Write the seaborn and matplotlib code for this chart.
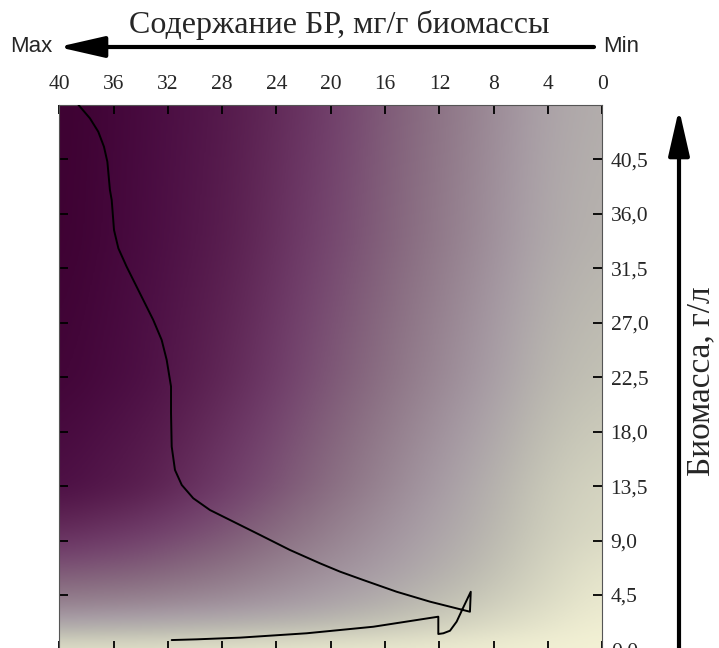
import numpy as np
import pandas as pd
import matplotlib
matplotlib.use("Agg")
import matplotlib.pyplot as plt
from matplotlib.colors import LinearSegmentedColormap, ListedColormap
import seaborn as sns

# ---------------- data ----------------
content = [38.60, 37.74, 37.13, 36.71, 36.46, 36.27, 36.14, 35.97, 35.65, 35.04,
           34.06, 33.08, 32.46, 32.09, 31.77, 31.77, 31.72, 31.48, 30.98, 30.13,
           28.90, 27.18, 25.21, 23.01, 20.80, 19.32, 17.61, 15.15, 12.69, 9.75,
           9.69, 10.24, 10.73, 11.22, 11.71, 12.08, 12.08, 16.87, 21.78, 26.69,
           29.88, 31.72]
biomass = [45.00, 43.87, 42.77, 41.53, 40.29, 37.95, 37.13, 34.65, 33.14, 31.62,
           29.42, 27.22, 25.57, 23.92, 21.72, 19.51, 16.76, 14.83, 13.59, 12.49,
           11.52, 10.56, 9.46, 8.22, 7.12, 6.43, 5.74, 4.77, 3.95, 3.12,
           4.77, 3.48, 2.30, 1.55, 1.34, 1.28, 2.71, 1.88, 1.34, 0.98,
           0.84, 0.78]

x_ticks = [40, 36, 32, 28, 24, 20, 16, 12, 8, 4, 0]
x_tick_labels = ["40", "36", "32", "28", "24", "20", "16", "12", "8", "4", "0"]
y_ticks = [0.0, 4.5, 9.0, 13.5, 18.0, 22.5, 27.0, 31.5, 36.0, 40.5]
y_tick_labels = ["0,0", "4,5", "9,0", "13,5", "18,0", "22,5", "27,0", "31,5", "36,0", "40,5"]

title_text = "Содержание БР, мг/г биомассы"
ylabel_text = "Биомасса, г/л"

# background shading control grid (0 = dark purple, 1 = pale yellow)
grid_content = [40, 34, 28, 22, 16, 10, 4, 0]
grid_biomass = [45, 34, 22.5, 13.5, 9.5, 6.75, 4.5, 3.2, 1.35, 0]
shade_45 = [0.00, 0.10, 0.20, 0.33, 0.46, 0.58, 0.71, 0.75]
shade_34 = [0.01, 0.11, 0.22, 0.36, 0.48, 0.60, 0.73, 0.77]
shade_22 = [0.05, 0.14, 0.27, 0.41, 0.53, 0.65, 0.78, 0.82]
shade_13 = [0.14, 0.23, 0.36, 0.48, 0.60, 0.72, 0.84, 0.88]
shade_9 = [0.31, 0.37, 0.45, 0.55, 0.65, 0.75, 0.86, 0.90]
shade_7 = [0.44, 0.47, 0.53, 0.61, 0.69, 0.78, 0.88, 0.93]
shade_4 = [0.55, 0.57, 0.61, 0.67, 0.74, 0.82, 0.90, 0.95]
shade_3 = [0.63, 0.65, 0.68, 0.72, 0.78, 0.85, 0.92, 0.96]
shade_1 = [0.80, 0.81, 0.82, 0.84, 0.87, 0.91, 0.95, 0.985]
shade_0 = [0.93, 0.93, 0.94, 0.95, 0.96, 0.97, 0.99, 1.00]

cmap_stops = [0.00, 0.12, 0.25, 0.38, 0.50, 0.60, 0.70, 0.78, 0.88, 1.00]
cmap_colors = ["#3c0030", "#4a0c42", "#5c2252", "#72406c", "#86687e",
               "#988592", "#aaa0a8", "#b8b6ae", "#d4d4c0", "#f8f6d8"]


def box_smooth(arr, k, axis):
    ker = np.ones(k) / k
    widths = [(0, 0)] * arr.ndim
    widths[axis] = (k // 2, k // 2)
    p = np.pad(arr, widths, mode="edge")
    return np.apply_along_axis(lambda v: np.convolve(v, ker, mode="valid"), axis, p)


# ---------------- plot ----------------
sns.set_theme(style="white")
plt.rcParams["font.family"] = ["Liberation Serif", "DejaVu Serif"]

W, H = 719, 648
fig = plt.figure(figsize=(W / 100, H / 100), dpi=100)
ax = fig.add_axes([59.3 / W, 1 - 649.5 / H, (602.3 - 59.3) / W, (649.5 - 104.7) / H])

# smooth colormap
base = LinearSegmentedColormap.from_list("bg", list(zip(cmap_stops, cmap_colors)), N=512)
lut = base(np.linspace(0, 1, 512))
lut[:, :3] = box_smooth(lut[:, :3], 61, 0)
cmap = ListedColormap(lut)

# smooth background field from the control grid
Z = np.array([shade_45, shade_34, shade_22, shade_13, shade_9, shade_7,
              shade_4, shade_3, shade_1, shade_0])
n = 400
gx = np.linspace(40, 0, n)
gy = np.linspace(45, 0, n)
gyc = np.array(grid_biomass)[::-1]
gxc = np.array(grid_content)[::-1]
tmp = np.array([np.interp(gy[::-1], gyc, Z[::-1, j])[::-1] for j in range(Z.shape[1])]).T
fine = np.array([np.interp(gx[::-1], gxc, tmp[i, ::-1])[::-1] for i in range(n)])
fine = box_smooth(fine, 41, 1)
fine = box_smooth(fine, 21, 0)
ax.imshow(fine, extent=(40, 0, 0, 45), origin="upper", cmap=cmap, vmin=0, vmax=1,
          aspect="auto", interpolation="bilinear", zorder=0)

df = pd.DataFrame({"content": content, "biomass": biomass})
sns.lineplot(data=df, x="content", y="biomass", sort=False, estimator=None,
             color="black", linewidth=1.4, ax=ax, zorder=3)

ax.set_xlim(40, 0)
ax.set_ylim(0, 45)
ax.set_xlabel("")
ax.set_ylabel("")
ax.set_xticks(x_ticks)
ax.set_xticklabels(x_tick_labels)
ax.set_yticks(y_ticks)
ax.set_yticklabels(y_tick_labels)
ax.tick_params(axis="x", direction="in", top=True, bottom=True, labeltop=True,
               labelbottom=False, length=6.5, width=1.3, color="black",
               labelsize=15.5, pad=8)
ax.tick_params(axis="y", direction="in", left=True, right=True, labelleft=False,
               labelright=True, length=6.5, width=1.3, color="black",
               labelsize=15.5, pad=6)
for s in ax.spines.values():
    s.set_color("#555555")
    s.set_linewidth(0.8)
ax.grid(False)

# title and side label
fig.text(339 / W, 1 - 25 / H, title_text, ha="center", va="center", fontsize=23)
fig.text(701 / W, 1 - 381 / H, ylabel_text, ha="center", va="center",
         rotation=90, fontsize=24)

# arrows
yA = 1 - 47 / H
ax.annotate("", xy=(58 / W, yA), xytext=(594 / W, yA), xycoords="figure fraction",
            textcoords="figure fraction",
            arrowprops=dict(arrowstyle="-|>,head_length=1.4,head_width=0.32",
                            mutation_scale=20, lw=3, color="black",
                            shrinkA=0, shrinkB=0))
xA = 679 / W
ax.annotate("", xy=(xA, 1 - 109 / H), xytext=(xA, -0.01), xycoords="figure fraction",
            textcoords="figure fraction",
            arrowprops=dict(arrowstyle="-|>,head_length=1.4,head_width=0.32",
                            mutation_scale=20, lw=3, color="black",
                            shrinkA=0, shrinkB=0))
fig.text(31 / W, yA, "Max", ha="center", va="center", fontsize=16,
         family=["Liberation Sans", "DejaVu Sans"])
fig.text(621 / W, yA, "Min", ha="center", va="center", fontsize=16,
         family=["Liberation Sans", "DejaVu Sans"])

fig.savefig("out.png", dpi=100)
